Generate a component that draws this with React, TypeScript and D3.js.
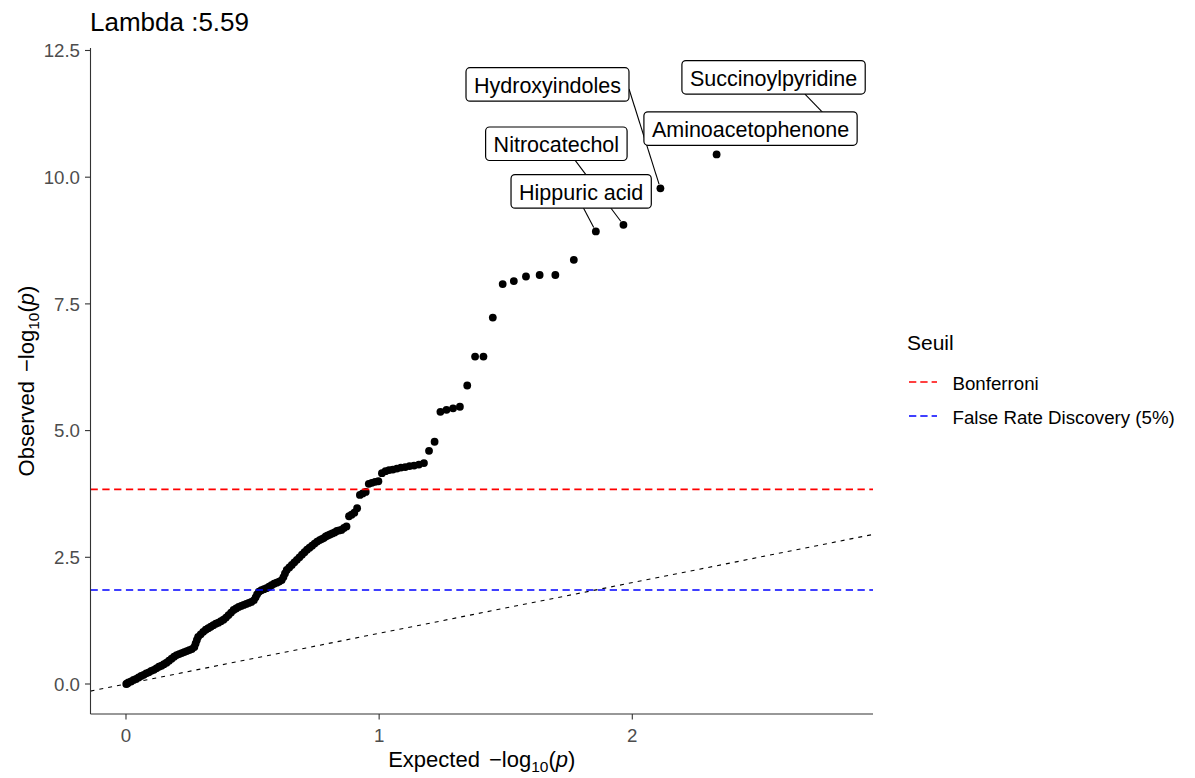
import React from "react";
import * as d3 from "d3";

// ---------- data ----------
const xTicks = [0, 1, 2];
const yTicks = [0, 2.5, 5, 7.5, 10, 12.5];
const yTickLabels = ["0.0", "2.5", "5.0", "7.5", "10.0", "12.5"];

// individually visible points (expected, observed), sorted by rank
const topExpected = [
  2.810, 2.333, 2.111, 1.965, 1.856, 1.769, 1.696, 1.634, 1.580, 1.532,
  1.488, 1.449, 1.412, 1.379, 1.348, 1.319, 1.292, 1.266, 1.242, 1.219,
  1.197, 1.177, 1.157, 1.138, 1.120, 1.103, 1.086, 1.070, 1.054, 1.039,
  1.025, 1.011, 0.997, 0.984, 0.971, 0.959, 0.947, 0.935, 0.924, 0.913,
  0.902, 0.891, 0.881, 0.871, 0.861, 0.851, 0.842, 0.833, 0.824, 0.815,
  0.806, 0.797, 0.789, 0.781, 0.773,
];
const topObserved = [
  10.98, 10.45, 9.78, 9.06, 8.93, 8.37, 8.07, 8.07, 8.04, 7.95,
  7.89, 7.23, 6.46, 6.46, 5.89, 5.47, 5.44, 5.41, 5.37, 4.78,
  4.60, 4.36, 4.33, 4.31, 4.30, 4.28, 4.27, 4.25, 4.23, 4.22,
  4.20, 4.16, 4.00, 3.99, 3.97, 3.95, 3.79, 3.76, 3.73, 3.47,
  3.38, 3.34, 3.31, 3.11, 3.08, 3.04, 3.03, 3.02, 2.99, 2.97,
  2.95, 2.93, 2.91, 2.88, 2.86,
];

// dense band of overlapping points (expected, observed)
const bandExpected = [
  0.765, 0.755, 0.745, 0.735, 0.725, 0.715, 0.705, 0.695, 0.685, 0.675,
  0.665, 0.655, 0.645, 0.635, 0.628, 0.622, 0.615, 0.605, 0.595, 0.585,
  0.575, 0.565, 0.555, 0.545, 0.535, 0.525, 0.518, 0.512, 0.505, 0.495,
  0.485, 0.475, 0.465, 0.455, 0.445, 0.435, 0.425, 0.415, 0.405, 0.395,
  0.385, 0.375, 0.365, 0.355, 0.345, 0.335, 0.325, 0.315, 0.305, 0.295,
  0.285, 0.280, 0.275, 0.270, 0.260, 0.250, 0.240, 0.230, 0.220, 0.210,
  0.200, 0.190, 0.180, 0.170, 0.160, 0.150, 0.140, 0.130, 0.120, 0.110,
  0.100, 0.090, 0.080, 0.070, 0.060, 0.050, 0.040, 0.030, 0.020, 0.010,
  0.005, 0.001,
];
const bandObserved = [
  2.84, 2.81, 2.77, 2.73, 2.69, 2.65, 2.60, 2.55, 2.50, 2.45,
  2.40, 2.35, 2.30, 2.25, 2.18, 2.11, 2.05, 2.02, 2.00, 1.98,
  1.95, 1.92, 1.89, 1.87, 1.85, 1.82, 1.77, 1.71, 1.65, 1.62,
  1.60, 1.58, 1.56, 1.54, 1.52, 1.49, 1.46, 1.41, 1.36, 1.31,
  1.27, 1.24, 1.21, 1.19, 1.16, 1.13, 1.10, 1.07, 1.03, 0.98,
  0.93, 0.87, 0.80, 0.73, 0.69, 0.67, 0.65, 0.63, 0.61, 0.59,
  0.57, 0.54, 0.50, 0.46, 0.42, 0.39, 0.36, 0.34, 0.31, 0.28,
  0.26, 0.23, 0.21, 0.18, 0.16, 0.13, 0.10, 0.08, 0.05, 0.03,
  0.01, 0.00,
];

// labelled metabolites: name and index into top arrays
const labelNames = ["Succinoylpyridine", "Aminoacetophenone", "Hydroxyindoles", "Nitrocatechol", "Hippuric acid"];
const labelIndex = [0, 1, 2, 3, 4];

// thresholds
const thresholdNames = ["Bonferroni", "False Rate Discovery (5%)"];
const thresholdValues = [3.84, 1.855];

const titleText = "Lambda :5.59";
const legendTitle = "Seuil";

// ---------- layout (repelled label boxes in data units) ----------
const labelLayout = [
  { cx: 2.558, cy: 11.97, sx: 2.682, sy: 11.64, seg: true },
  { cx: 2.467, cy: 10.96, sx: 0, sy: 0, seg: false },
  { cx: 1.665, cy: 11.83, sx: 1.987, sy: 11.74, seg: true },
  { cx: 1.700, cy: 10.66, sx: 1.773, sy: 10.34, seg: true },
  { cx: 1.798, cy: 9.72, sx: 1.805, sy: 9.41, seg: true },
];
const thresholdColors = ["#FF0000", "#0000FF"];

const W = 1195;
const H = 778;
const P = { left: 90.5, right: 873, top: 48, bottom: 714 };
const FONT = "'Liberation Sans', Arial, Helvetica, sans-serif";
const LABEL_FS = 21.5;

function measure(text: string, size: number): number {
  if (typeof document === "undefined") return text.length * size * 0.55;
  const c = document.createElement("canvas").getContext("2d");
  if (!c) return text.length * size * 0.55;
  c.font = `${size}px ${FONT}`;
  return c.measureText(text).width;
}

export default function App() {
  const x = d3.scaleLinear().domain([-0.1402, 2.9508]).range([P.left, P.right]);
  const y = d3.scaleLinear().domain([-0.592, 12.549]).range([P.bottom, P.top]);

  const [d0, d1] = x.domain();
  const diag = d3.line<number>().x((v) => x(v)).y((v) => y(v))([d0, d1]) || "";

  const points = [
    ...bandExpected.map((e, i) => ({ e, o: bandObserved[i] })),
    ...topExpected.map((e, i) => ({ e, o: topObserved[i] })),
  ];

  const labels = labelNames.map((name, k) => {
    const idx = labelIndex[k];
    const L = labelLayout[k];
    const tw = measure(name, LABEL_FS);
    const bw = tw + 16;
    const bh = 33.5;
    const cx = x(L.cx);
    const cy = y(L.cy);
    const px = x(topExpected[idx]);
    const py = y(topObserved[idx]);
    let seg: null | { x1: number; y1: number; x2: number; y2: number } = null;
    if (L.seg) {
      const sx = x(L.sx);
      const sy = y(L.sy);
      const dx = px - sx;
      const dy = py - sy;
      const len = Math.hypot(dx, dy);
      const shrink = 4.5;
      seg = { x1: sx, y1: sy, x2: sx + (dx * (len - shrink)) / len, y2: sy + (dy * (len - shrink)) / len };
    }
    return { name, cx, cy, bw, bh, seg };
  });

  const tickColor = "#4D4D4D";
  const axisColor = "#333333";

  return (
    <svg
      width={W}
      height={H}
      style={{ position: "absolute", left: 0, top: 0, background: "#ffffff" }}
      fontFamily={FONT}
    >
      <rect x={0} y={0} width={W} height={H} fill="#ffffff" />
      <defs>
        <clipPath id="panel">
          <rect x={P.left} y={P.top} width={P.right - P.left} height={P.bottom - P.top} />
        </clipPath>
      </defs>

      {/* title */}
      <text x={90} y={30.5} fontSize={26} fill="#000">{titleText}</text>

      <g clipPath="url(#panel)">
        {/* expected diagonal */}
        <path d={diag} stroke="#000" strokeWidth={1.1} strokeDasharray="4,5" fill="none" />
        {/* points */}
        {points.map((p, i) => (
          <circle key={i} cx={x(p.e)} cy={y(p.o)} r={3.9} fill="#000" />
        ))}
        {/* thresholds */}
        {thresholdValues.map((v, i) => (
          <line
            key={i}
            x1={P.left}
            x2={P.right}
            y1={y(v)}
            y2={y(v)}
            stroke={thresholdColors[i]}
            strokeWidth={1.6}
            strokeDasharray="7.3,4.5"
          />
        ))}
      </g>

      {/* label segments */}
      {labels.map((l, i) =>
        l.seg ? (
          <line key={i} x1={l.seg.x1} y1={l.seg.y1} x2={l.seg.x2} y2={l.seg.y2} stroke="#000" strokeWidth={1.1} />
        ) : null
      )}
      {/* label boxes */}
      {labels.map((l, i) => (
        <g key={i}>
          <rect
            x={l.cx - l.bw / 2}
            y={l.cy - l.bh / 2}
            width={l.bw}
            height={l.bh}
            rx={4}
            ry={4}
            fill="#fff"
            stroke="#000"
            strokeWidth={1.2}
          />
          <text x={l.cx} y={l.cy + 8.5} textAnchor="middle" fontSize={LABEL_FS} fill="#000">
            {l.name}
          </text>
        </g>
      ))}

      {/* axes */}
      <line x1={P.left} x2={P.left} y1={P.top} y2={P.bottom} stroke={axisColor} strokeWidth={1.1} />
      <line x1={P.left} x2={P.right} y1={P.bottom} y2={P.bottom} stroke={axisColor} strokeWidth={1.1} />
      {yTicks.map((t, i) => (
        <g key={i}>
          <line x1={P.left - 5.5} x2={P.left} y1={y(t)} y2={y(t)} stroke={axisColor} strokeWidth={1.1} />
          <text x={80} y={y(t) + 6.7} textAnchor="end" fontSize={18.7} fill={tickColor}>
            {yTickLabels[i]}
          </text>
        </g>
      ))}
      {xTicks.map((t, i) => (
        <g key={i}>
          <line x1={x(t)} x2={x(t)} y1={P.bottom} y2={P.bottom + 5.5} stroke={axisColor} strokeWidth={1.1} />
          <text x={x(t)} y={741.5} textAnchor="middle" fontSize={18.7} fill={tickColor}>
            {String(t)}
          </text>
        </g>
      ))}

      {/* axis titles */}
      <text x={(P.left + P.right) / 2} y={767} textAnchor="middle" fontSize={22} fill="#000">
        Expected
        <tspan dx={9}>−log</tspan>
        <tspan fontSize={15.5} dy={5}>10</tspan>
        <tspan dy={-5}>(</tspan>
        <tspan fontStyle="italic">p</tspan>
        <tspan>)</tspan>
      </text>
      <text
        transform={`translate(34, ${(P.top + P.bottom) / 2}) rotate(-90)`}
        textAnchor="middle"
        fontSize={22}
        fill="#000"
      >
        Observed
        <tspan dx={9}>−log</tspan>
        <tspan fontSize={15.5} dy={5}>10</tspan>
        <tspan dy={-5}>(</tspan>
        <tspan fontStyle="italic">p</tspan>
        <tspan>)</tspan>
      </text>

      {/* legend */}
      <text x={907} y={350} fontSize={21} fill="#000">{legendTitle}</text>
      {thresholdNames.map((n, i) => {
        const ky = 382 + i * 34;
        return (
          <g key={i}>
            <line
              x1={909}
              x2={937}
              y1={ky}
              y2={ky}
              stroke={thresholdColors[i]}
              strokeWidth={1.6}
              strokeDasharray="7.3,4"
            />
            <text x={952.5} y={ky + 7.8} fontSize={18.7} fill="#000">{n}</text>
          </g>
        );
      })}
    </svg>
  );
}
